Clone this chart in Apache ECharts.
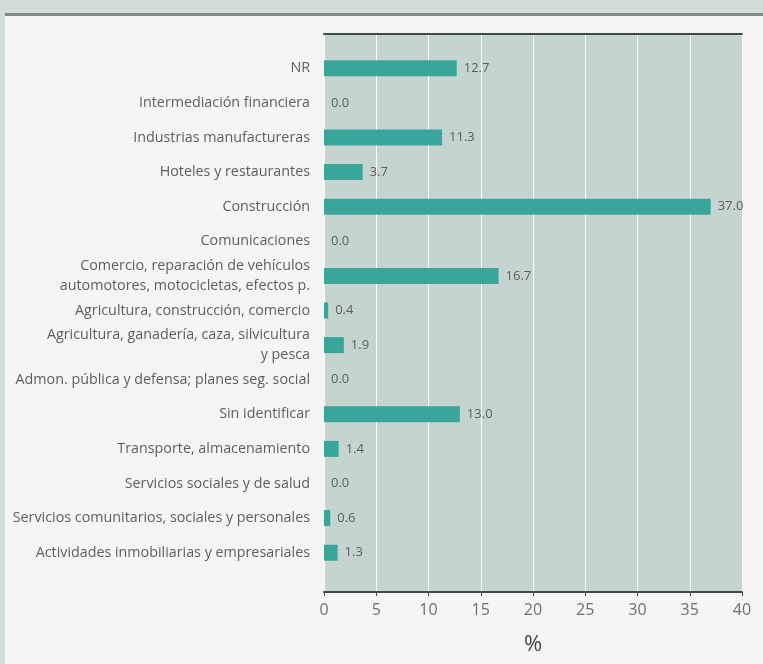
<!DOCTYPE html>
<html>
<head>
<meta charset="utf-8">
<script src="https://cdn.jsdelivr.net/npm/echarts@6/dist/echarts.min.js"></script>
<style>
  html, body { margin: 0; padding: 0; background: #f3f6f4; }
  #chart { width: 763px; height: 664px; }
</style>
</head>
<body>
<div id="chart"></div>
<script>
// Sectors, listed top to bottom
const sectors = [
  'NR',
  'Intermediación financiera',
  'Industrias manufactureras',
  'Hoteles y restaurantes',
  'Construcción',
  'Comunicaciones',
  'Comercio, reparación de vehículos\nautomotores, motocicletas, efectos p.',
  'Agricultura, construcción, comercio',
  'Agricultura, ganadería, caza, silvicultura\ny pesca',
  'Admon. pública y defensa; planes seg. social',
  'Sin identificar',
  'Transporte, almacenamiento',
  'Servicios sociales y de salud',
  'Servicios comunitarios, sociales y personales',
  'Actividades inmobiliarias y empresariales'
];
// Share of each sector, in percent
const shares = [12.7, 0.0, 11.3, 3.7, 37.0, 0.0, 16.7, 0.4, 1.9, 0.0, 13.0, 1.4, 0.0, 0.6, 1.3];
// Horizontal axis ticks
const axisMin = 0, axisMax = 40, axisStep = 5;
const axisTitle = '%';

const chart = echarts.init(document.getElementById('chart'));
const FONT = '"Open Sans", "Noto Sans", sans-serif';
const PLOT_LEFT = 324, PLOT_W = 418;

chart.setOption({
  backgroundColor: '#f3f6f4',
  animation: false,
  graphic: [
    { type: 'rect', shape: { x: 0, y: 0, width: 763, height: 13 }, style: { fill: '#d3dcd8' }, silent: true },
    { type: 'rect', shape: { x: 0, y: 0, width: 5, height: 664 }, style: { fill: '#d3dcd8' }, silent: true },
    { type: 'rect', shape: { x: 5, y: 13, width: 758, height: 3 }, style: { fill: '#7d8b84' }, silent: true }
  ],
  grid: [
    { left: PLOT_LEFT, top: 34, width: PLOT_W, height: 558, show: true,
      backgroundColor: '#c6d4d0', borderWidth: 0 },
    { left: PLOT_LEFT, top: 51, width: PLOT_W, height: 519 }
  ],
  xAxis: [
    {
      gridIndex: 0, type: 'value', min: axisMin, max: axisMax, interval: axisStep,
      name: axisTitle, nameLocation: 'middle', nameGap: 42,
      nameTextStyle: { fontFamily: FONT, fontSize: 22, color: '#444' },
      axisLine: { show: true, lineStyle: { color: '#3d4b44', width: 2 } },
      axisTick: { show: true, length: 4, lineStyle: { color: '#3d4b44', width: 1 } },
      axisLabel: { fontFamily: FONT, fontSize: 16, color: '#707070', margin: 10 },
      splitLine: { show: true, lineStyle: { color: '#ffffff', width: 1 } }
    },
    {
      gridIndex: 0, type: 'value', min: axisMin, max: axisMax, interval: axisStep, position: 'top',
      axisLine: { show: true, lineStyle: { color: '#3d4b44', width: 2 } },
      axisTick: { show: false }, axisLabel: { show: false }, splitLine: { show: false }
    },
    {
      gridIndex: 1, type: 'value', min: axisMin, max: axisMax, interval: axisStep, show: false
    }
  ],
  yAxis: [
    { gridIndex: 0, type: 'value', show: false },
    {
      gridIndex: 1, type: 'category', data: sectors, inverse: true,
      axisLine: { show: false }, axisTick: { show: false },
      axisLabel: { fontFamily: FONT, fontSize: 14.3, color: '#5e5e5e', margin: 14,
        align: 'right', lineHeight: 20 }
    }
  ],
  series: [{
    type: 'bar',
    xAxisIndex: 2, yAxisIndex: 1,
    data: shares,
    barWidth: 16,
    itemStyle: { color: '#3aa69b' },
    label: {
      show: true, position: 'right', distance: 7,
      fontFamily: FONT, fontSize: 13, color: '#5e5e5e',
      formatter: p => p.value.toFixed(1)
    }
  }]
});
</script>
</body>
</html>
